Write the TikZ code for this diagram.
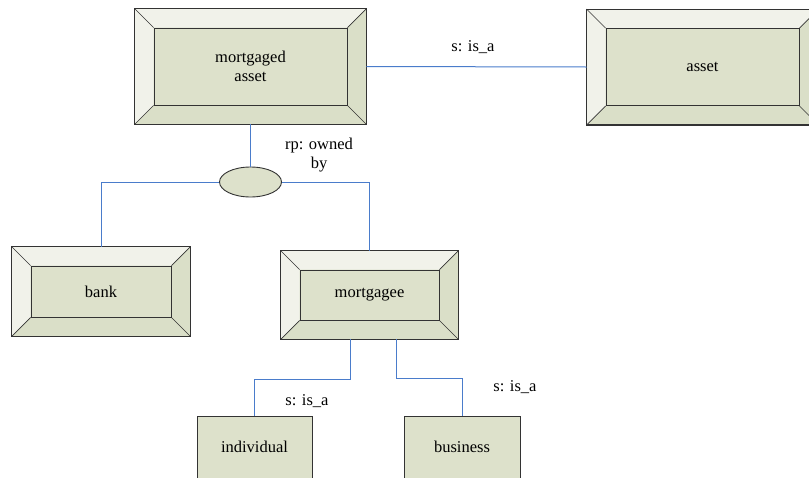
\documentclass[tikz,border=0pt]{standalone}
\usepackage{fontspec}
\setmainfont{Liberation Serif}
\usetikzlibrary{shapes.geometric}
\definecolor{fillmain}{HTML}{DDE1CB}
\definecolor{filllight}{HTML}{F1F2EA}
\definecolor{fillbot}{HTML}{DADFC8}
\definecolor{edge}{HTML}{333333}
\definecolor{conn}{HTML}{4A7CCB}
\tikzset{
  outerbox/.style={rectangle, draw=edge, line width=0.9pt, inner sep=0pt, fill=fillbot},
  innerbox/.style={rectangle, draw=edge, line width=0.9pt, inner sep=0pt, fill=fillmain, align=center, font=\fontsize{16.5}{19}\selectfont},
  plainbox/.style={rectangle, draw=edge, line width=0.9pt, inner sep=0pt, fill=fillmain, align=center, font=\fontsize{16.5}{19}\selectfont},
  relnode/.style={ellipse, draw=edge, line width=0.9pt, fill=fillmain, inner sep=0pt},
  conn/.style={draw=conn, line width=1pt},
  lbl/.style={font=\fontsize{16.5}{19}\selectfont, align=center, inner sep=0pt},
}
\newcommand\bevbox[6]{%
  \node[outerbox, minimum width=#4pt, minimum height=#5pt] (#1) at (#2,#3) {};
  \fill[filllight] (#1.north west) -- (#1.north east) -- ++(-19,-19) -- ([shift={(19,-19)}]#1.north west) -- ([shift={(19,19)}]#1.south west) -- (#1.south west) -- cycle;
  \node[innerbox, minimum width=#4pt-38pt, minimum height=#5pt-38pt] (#1in) at (#2,#3) {#6};
  \draw[edge, line width=0.7pt] (#1.north west) -- (#1in.north west)
     (#1.north east) -- (#1in.north east)
     (#1.south west) -- (#1in.south west)
     (#1.south east) -- (#1in.south east);
  \draw[edge, line width=0.9pt] (#1.north west) rectangle (#1.south east);
}
\begin{document}
\begin{tikzpicture}[x=1pt,y=1pt]
\useasboundingbox (0,0) rectangle (809,-477);
\clip (0,0) rectangle (809,-477);
\bevbox{ma}{250.5}{-66.5}{231}{115}{mortgaged\\asset}
\bevbox{asset}{702.5}{-67}{231}{115}{asset}
\bevbox{bank}{101}{-291.5}{178}{89}{bank}
\bevbox{mgee}{369.5}{-295}{177}{88}{mortgagee}
\node[plainbox, minimum width=115pt, minimum height=84pt, text depth=0pt] (ind) at (254.5,-458) {};
\node[lbl] at (254.5,-447) {individual};
\node[plainbox, minimum width=116pt, minimum height=84pt] (bus) at (462,-458) {};
\node[lbl] at (462,-447) {business};
\node[relnode, minimum width=62pt, minimum height=30pt] (rel) at (250.5,-182) {};
% connectors
\draw[conn] (ma.east) -- (asset.west);
\draw[conn] (ma.south) -- (rel.north);
\draw[conn] (rel.west) -| (bank.north);
\draw[conn] (rel.east) -| (mgee.north);
\draw[conn] ([xshift=-19.5pt]mgee.south) -- ++(0,-40) -| (ind.north);
\draw[conn] ([xshift=26.5pt]mgee.south) -- ++(0,-39) -| (bus.north);
% labels
\node[lbl] at (473,-47) {s: is\_a};
\node[lbl] at (319,-155) {rp: owned\\by};
\node[lbl] at (307,-401) {s: is\_a};
\node[lbl] at (515,-387) {s: is\_a};
\end{tikzpicture}
\end{document}
